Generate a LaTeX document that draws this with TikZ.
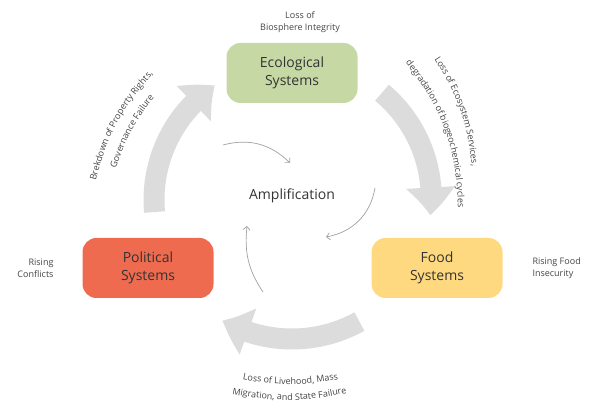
\documentclass[tikz,border=0pt]{standalone}
\usepackage{fontspec}
\setmainfont{Open Sans}
\usetikzlibrary{arrows.meta,bending,decorations.text}
\definecolor{ecog}{HTML}{C6D9A5}
\definecolor{foody}{HTML}{FFD97F}
\definecolor{polr}{HTML}{EF6B4F}
\definecolor{textdark}{HTML}{333333}
\definecolor{labgray}{HTML}{444444}
\definecolor{arrowgray}{HTML}{DCDCDC}
\definecolor{thingray}{HTML}{A0A0A0}
\newcommand\labfont{\fontsize{9}{12.5}\selectfont}
\begin{document}
\begin{tikzpicture}[x=1pt,y=1pt,
  box/.style={rounded corners=14pt, minimum width=131pt, minimum height=60pt,
    align=center, font=\fontsize{14}{18}\selectfont, text=textdark},
  lab/.style={font=\labfont, text=labgray, align=center},
  bigarrow/.style={draw=arrowgray, line width=21pt,
    -{Triangle[width=47pt,length=28pt,bend]}},
  thin/.style={draw=thingray, line width=0.7pt,
    -{Straight Barb[length=3.5pt,width=7pt]}}]
\useasboundingbox (0,0) rectangle (601,419);
\coordinate (C) at (292,219);

% big gray cycle arrows
\draw[bigarrow] ([shift={(185:138)}]C) arc[start angle=185,end angle=124,radius=138];
\draw[bigarrow] ([shift={(50:140)}]C) arc[start angle=50,end angle=-7,radius=138];
\draw[bigarrow] ([shift={(-61:139)}]C) arc[start angle=-61,end angle=-120,radius=139];

% boxes
\node[box, fill=ecog] (eco) at (292,346) {Ecological\\Systems};
\node[box, fill=foody] (food) at (437,151) {Food\\Systems};
\node[box, fill=polr] (pol) at (148,151) {Political\\Systems};

% labels
\node[lab] (bio) at (300,397) {Loss of\\Biosphere Integrity};
\node[lab, anchor=east, align=right] (conf) at (57,151) {Rising\\Conflicts};
\node[lab, anchor=west, align=left] (fins) at (529,151) {Rising Food\\Insecurity};
\node[font=\fontsize{14}{17}\selectfont, text=textdark] (amp) at (292,223) {Amplification};

% thin inner arrows
\coordinate (t1a) at (223,274); \coordinate (t1b) at (290,256);
\coordinate (t2a) at (375,231); \coordinate (t2b) at (326,182);
\coordinate (t3a) at (263,127); \coordinate (t3b) at (247,193);
\draw[thin] (t1a) to[bend left=30] (t1b);
\draw[thin] (t2a) to[bend left=35] (t2b);
\draw[thin] (t3a) to[bend left=20] (t3b);

% curved labels
\coordinate (r1a) at (433,362); \coordinate (r1b) at (472,250);
\coordinate (r2a) at (400,363); \coordinate (r2b) at (458,203);
\path[decorate, decoration={text along path, text align=center,
  text={|\labfont\color{labgray}|Loss of Ecosystem Services,}}]
  (r1a) to[bend left=14] (r1b);
\path[decorate, decoration={text along path, text align=center,
  text={|\labfont\color{labgray}|degradation of biogeochemical cycles}}]
  (r2a) to[bend left=20] (r2b);

\coordinate (l1a) at (95,234); \coordinate (l1b) at (156,348);
\coordinate (l2a) at (115,248); \coordinate (l2b) at (156,324);
\path[decorate, decoration={text along path, text align=center,
  text={|\labfont\color{labgray}|Brekdown of Property Rights,}}]
  (l1a) to[bend left=15] (l1b);
\path[decorate, decoration={text along path, text align=center,
  text={|\labfont\color{labgray}|Governance Failure}}]
  (l2a) to[bend left=10] (l2b);

\coordinate (b1a) at (236,41); \coordinate (b1b) at (345,41);
\coordinate (b2a) at (227,26); \coordinate (b2b) at (352,27);
\path[decorate, decoration={text along path, text align=center,
  text={|\labfont\color{labgray}|Loss of Livehood, Mass}}]
  (b1a) to[bend right=12] (b1b);
\path[decorate, decoration={text along path, text align=center,
  text={|\labfont\color{labgray}|Migration, and State Failure}}]
  (b2a) to[bend right=12] (b2b);
\end{tikzpicture}
\end{document}
